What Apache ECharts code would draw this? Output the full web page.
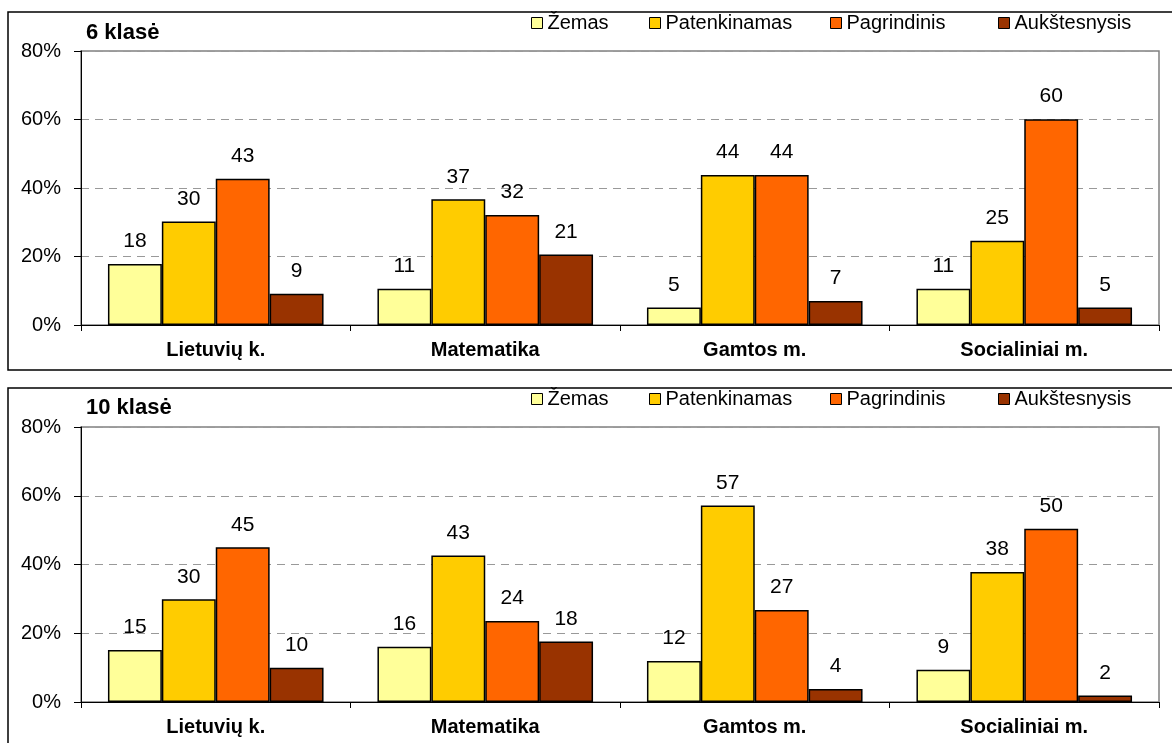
<!DOCTYPE html>
<html>
<head>
<meta charset="utf-8">
<script src="https://cdn.jsdelivr.net/npm/echarts@6/dist/echarts.min.js"></script>
<style>
  html, body { margin: 0; padding: 0; background: #fff; }
  #chart { width: 1172px; height: 743px; }
</style>
</head>
<body>
<div id="chart"></div>
<script>
// data (percent of pupils)
var subjects = ['Lietuvių k.', 'Matematika', 'Gamtos m.', 'Socialiniai m.'];
var levels = ['Žemas', 'Patenkinamas', 'Pagrindinis', 'Aukštesnysis'];
var levelColors = ['#FFFF99', '#FFCC00', '#FF6600', '#993300'];
var yTicks = [0, 20, 40, 60, 80];

// 6 klasė, one array per level, in subject order
var six_zemas = [17.8, 10.6, 5.1, 10.6];
var six_patenk = [30.2, 36.7, 43.8, 24.6];
var six_pagr = [42.7, 32.1, 43.8, 60.1];
var six_aukst = [9.1, 20.6, 7.0, 5.1];

// 10 klasė
var ten_zemas = [15.1, 16.1, 11.9, 9.4];
var ten_patenk = [29.9, 42.6, 57.2, 37.8];
var ten_pagr = [45.0, 23.6, 26.8, 50.4];
var ten_aukst = [10.0, 17.6, 3.8, 1.9];

var chart = echarts.init(document.getElementById('chart'));

var font = '"Liberation Sans", Arial, sans-serif';
// left edge of each legend square, as in the picture
var legendX = [531, 649, 830, 998];

function makeX(gridIndex) {
  return {
    type: 'category',
    gridIndex: gridIndex,
    data: subjects,
    axisLine: { lineStyle: { color: '#000', width: 1 } },
    axisTick: { show: true, length: 6, lineStyle: { color: '#000' } },
    axisLabel: { fontFamily: font, fontSize: 20, fontWeight: 'bold', color: '#000', margin: 15 }
  };
}

function makeY(gridIndex) {
  return {
    type: 'value',
    gridIndex: gridIndex,
    min: yTicks[0],
    max: yTicks[yTicks.length - 1],
    interval: 20,
    axisLine: { show: true, lineStyle: { color: '#000', width: 1 } },
    axisTick: { show: true, length: 7, lineStyle: { color: '#000' } },
    axisLabel: { fontFamily: font, fontSize: 20, color: '#000', margin: 20, formatter: '{value}%' },
    splitLine: { show: true, lineStyle: { color: '#999', type: [8, 6], width: 1 } }
  };
}

function makeSeries(name, idx, values, axisIndex) {
  return {
    name: name,
    type: 'bar',
    xAxisIndex: axisIndex,
    yAxisIndex: axisIndex,
    data: values,
    barGap: '0%',
    barCategoryGap: '20%',
    itemStyle: { color: levelColors[idx], borderColor: '#000', borderWidth: 1.5 },
    label: {
      show: true,
      position: 'top',
      distance: 12,
      fontFamily: font,
      fontSize: 21,
      color: '#000',
      formatter: function (p) { return Math.round(p.value); }
    },
    emphasis: { disabled: true }
  };
}

// one legend per item so each square sits where it is in the picture
var legends = [];
[13, 389].forEach(function (top) {
  levels.forEach(function (lv, i) {
    legends.push({
      left: legendX[i],
      top: top,
      padding: 0,
      itemWidth: 11,
      itemHeight: 11,
      itemGap: 0,
      icon: 'rect',
      data: [lv],
      selectedMode: false,
      textStyle: { fontFamily: font, fontSize: 20, color: '#000', padding: [0, 0, 0, 0] },
      itemStyle: { borderColor: '#000', borderWidth: 1 }
    });
  });
});

var option = {
  animation: false,
  color: levelColors,
  title: [
    { text: '6 klasė', left: 86, top: 22, padding: 0,
      textStyle: { fontFamily: font, fontSize: 22, fontWeight: 'bold', color: '#000' } },
    { text: '10 klasė', left: 86, top: 397, padding: 0,
      textStyle: { fontFamily: font, fontSize: 22, fontWeight: 'bold', color: '#000' } }
  ],
  legend: legends,
  grid: [
    { left: 81, top: 51, width: 1078, height: 274, show: true, borderColor: '#808080', borderWidth: 1.5 },
    { left: 81, top: 427, width: 1078, height: 275, show: true, borderColor: '#808080', borderWidth: 1.5 }
  ],
  xAxis: [makeX(0), makeX(1)],
  yAxis: [makeY(0), makeY(1)],
  series: [
    makeSeries(levels[0], 0, six_zemas, 0),
    makeSeries(levels[1], 1, six_patenk, 0),
    makeSeries(levels[2], 2, six_pagr, 0),
    makeSeries(levels[3], 3, six_aukst, 0),
    makeSeries(levels[0], 0, ten_zemas, 1),
    makeSeries(levels[1], 1, ten_patenk, 1),
    makeSeries(levels[2], 2, ten_pagr, 1),
    makeSeries(levels[3], 3, ten_aukst, 1)
  ],
  graphic: [
    // page heading, cut off by the top of the picture
    { type: 'text', x: 92, y: 1, silent: true,
      style: { text: 'Mokinių procentinis pasiskirstymas pagal skirtingų dalykų pasiekimų lygius',
        font: 'italic bold 23px "Liberation Serif", "Times New Roman", serif', fill: '#000',
        verticalAlign: 'bottom' } },
    // outer frames of both chart boxes
    { type: 'rect', silent: true, z: -1,
      shape: { x: 8, y: 12, width: 1180, height: 358 },
      style: { fill: 'none', stroke: '#000', lineWidth: 1.5 } },
    { type: 'rect', silent: true, z: -1,
      shape: { x: 8, y: 388, width: 1180, height: 380 },
      style: { fill: 'none', stroke: '#000', lineWidth: 1.5 } }
  ]
};

chart.setOption(option);
</script>
</body>
</html>
